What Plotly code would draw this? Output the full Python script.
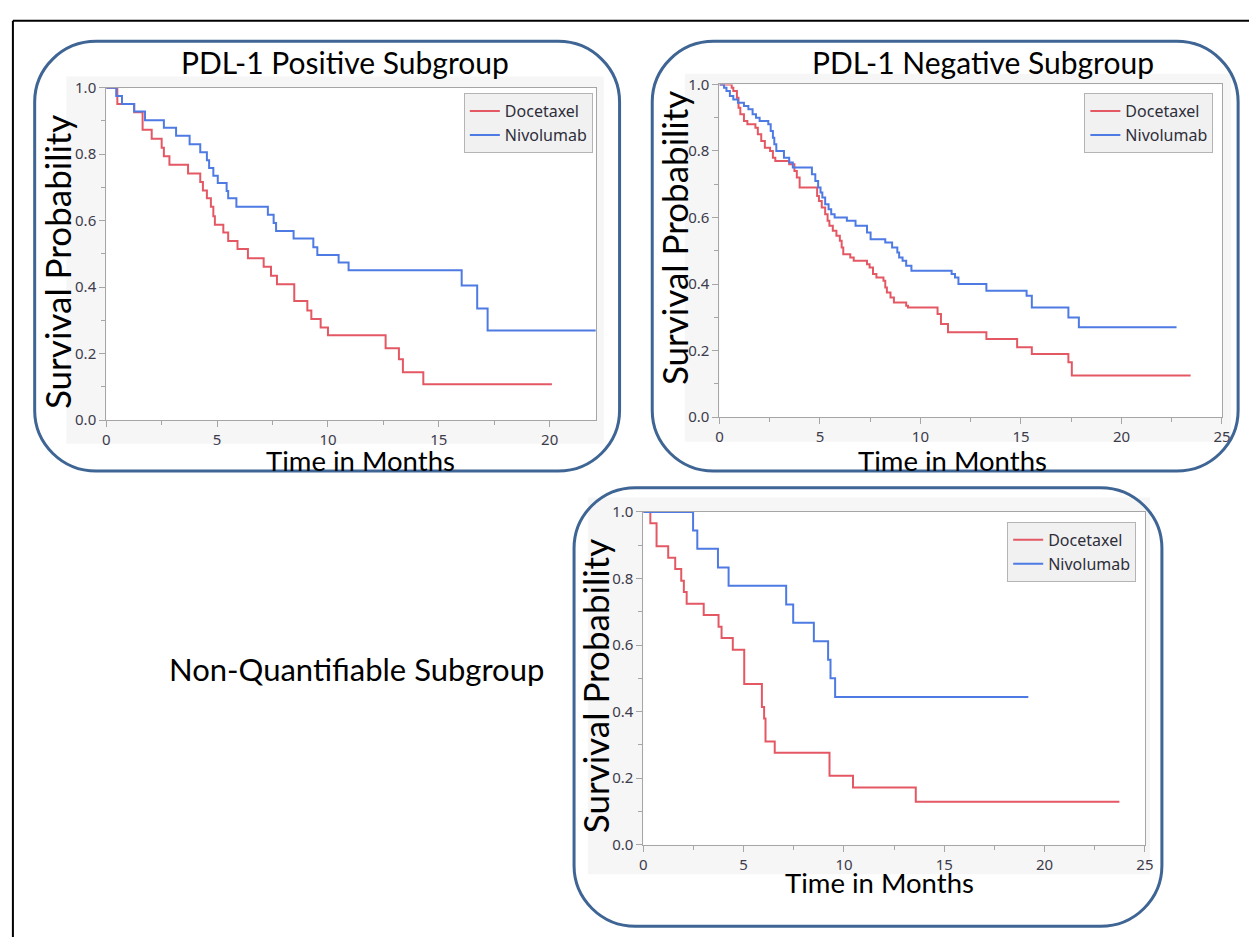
import plotly.graph_objects as go

W, H = 1258, 946

# ---------------- data: Kaplan-Meier step points (months, survival) ----------------
# PDL-1 positive subgroup
pos_doc_t = [0, 0.5, 1.26, 1.64, 2.05, 2.5, 2.6, 2.85, 3.69, 4.24, 4.36, 4.54, 4.72, 4.83,
             4.9, 5.28, 5.5, 5.92, 6.39, 7.1, 7.43, 7.7, 8.48, 9.07, 9.25, 9.67, 10.0,
             12.6, 13.2, 13.38, 14.3, 20.1]
pos_doc_s = [1.0, 0.951, 0.926, 0.873, 0.846, 0.819, 0.794, 0.768, 0.742, 0.716, 0.691,
             0.667, 0.642, 0.613, 0.588, 0.564, 0.539, 0.515, 0.487, 0.461, 0.434, 0.409,
             0.358, 0.330, 0.304, 0.279, 0.255, 0.216, 0.183, 0.144, 0.108, 0.108]
pos_niv_t = [0, 0.45, 0.71, 1.26, 1.75, 2.6, 3.15, 3.76, 4.24, 4.54, 4.64, 4.83, 5.03, 5.43,
             5.5, 5.87, 7.29, 7.55, 7.66, 8.45, 9.34, 9.52, 10.48, 10.93, 16.03, 16.73,
             17.2, 22.08]
pos_niv_s = [1.0, 0.975, 0.951, 0.928, 0.902, 0.879, 0.855, 0.830, 0.806, 0.782, 0.758,
             0.735, 0.713, 0.689, 0.667, 0.642, 0.618, 0.593, 0.569, 0.546, 0.520, 0.497,
             0.474, 0.451, 0.405, 0.336, 0.270, 0.270]

# PDL-1 negative subgroup
neg_doc_t = [0, 0.61, 0.69, 0.87, 0.95, 1.04, 1.22, 1.39, 1.79, 1.91, 2.08, 2.26, 2.52, 2.66,
             2.78, 3.47, 3.73, 3.85, 3.99, 4.86, 4.95, 5.09, 5.26, 5.38, 5.47, 5.64, 5.82,
             5.99, 6.08, 6.16, 6.51, 6.68, 7.34, 7.47, 7.64, 7.81, 8.16, 8.25, 8.33, 8.51,
             8.68, 9.29, 9.38, 10.85, 11.02, 11.37, 13.28, 14.81, 15.54, 17.36, 17.53, 23.44]
neg_doc_s = [1.0, 0.99, 0.98, 0.96, 0.93, 0.91, 0.89, 0.88, 0.87, 0.85, 0.83, 0.81, 0.80,
             0.78, 0.77, 0.76, 0.74, 0.72, 0.69, 0.665, 0.65, 0.63, 0.61, 0.59, 0.575, 0.56,
             0.545, 0.53, 0.51, 0.49, 0.48, 0.47, 0.46, 0.45, 0.43, 0.42, 0.41, 0.39, 0.375,
             0.36, 0.345, 0.335, 0.33, 0.31, 0.28, 0.255, 0.235, 0.21, 0.19, 0.165, 0.125,
             0.125]
neg_niv_t = [0, 0.23, 0.35, 0.52, 0.69, 0.92, 1.22, 1.44, 1.65, 1.82, 2.0, 2.43, 2.55, 2.66,
             2.73, 2.83, 3.21, 3.47, 3.65, 4.6, 4.77, 4.91, 5.03, 5.12, 5.26, 5.43, 5.56,
             5.73, 6.34, 6.77, 7.34, 7.52, 8.25, 8.59, 8.85, 8.94, 9.11, 9.29, 9.55, 11.55,
             11.72, 11.89, 13.28, 15.28, 15.54, 17.36, 17.88, 22.74]
neg_niv_s = [1.0, 0.99, 0.98, 0.965, 0.955, 0.945, 0.935, 0.925, 0.91, 0.90, 0.89, 0.88,
             0.86, 0.84, 0.82, 0.80, 0.78, 0.765, 0.75, 0.73, 0.71, 0.69, 0.675, 0.66, 0.64,
             0.625, 0.61, 0.60, 0.59, 0.575, 0.555, 0.535, 0.525, 0.51, 0.495, 0.48, 0.47,
             0.455, 0.44, 0.43, 0.42, 0.40, 0.38, 0.365, 0.33, 0.30, 0.27, 0.27]

# Non-quantifiable subgroup
nq_doc_t = [0, 0.35, 0.66, 1.24, 1.59, 1.89, 2.02, 2.16, 3.01, 3.75, 3.9, 4.46, 5.03, 5.91,
            6.02, 6.09, 6.55, 9.28, 10.45, 13.58, 23.73]
nq_doc_s = [1.0, 0.966, 0.897, 0.862, 0.828, 0.793, 0.759, 0.724, 0.690, 0.655, 0.621,
            0.586, 0.483, 0.414, 0.379, 0.310, 0.276, 0.207, 0.172, 0.129, 0.129]
nq_niv_t = [0, 2.48, 2.69, 3.72, 4.25, 7.12, 7.47, 8.5, 9.21, 9.33, 9.56, 19.19]
nq_niv_s = [1.0, 0.944, 0.889, 0.833, 0.778, 0.722, 0.667, 0.611, 0.556, 0.50, 0.444, 0.444]

series_names = ["Docetaxel", "Nivolumab"]
y_ticks = [0.0, 0.2, 0.4, 0.6, 0.8, 1.0]
x_ticks = [0, 5, 10, 15, 20, 25]

RED = "rgb(228,88,100)"
BLUE = "rgb(78,122,228)"
BOX = "#3e6594"
AXIS = "#a6a6a6"
TICKFONT = dict(family="Noto Sans, DejaVu Sans, sans-serif", size=15, color="#3c3c4c")
LABELFONT = "Lato, Noto Sans, sans-serif"


def px(x):
    return x / W


def py(y):
    return 1 - y / H


# plot area geometry (pixels) for each panel
panels = [
    dict(xa="x", ya="y", lg="legend", l=103.3, r=598, t=78.3, b=418, xmax=22.08,
         doc=(pos_doc_t, pos_doc_s), niv=(pos_niv_t, pos_niv_s),
         frame=(63, 67, 606, 442), box=(31, 31, 622, 470),
         legend=(595, 84)),
    dict(xa="x2", ya="y2", lg="legend2", l=722.9, r=1230.7, t=75, b=415, xmax=25,
         doc=(neg_doc_t, neg_doc_s), niv=(neg_niv_t, neg_niv_s),
         frame=(688, 64, 1240, 440), box=(655, 31, 1247, 470),
         legend=(1222, 84)),
    dict(xa="x3", ya="y3", lg="legend3", l=646, r=1152.8, t=511.7, b=851.7, xmax=25,
         doc=(nq_doc_t, nq_doc_s), niv=(nq_niv_t, nq_niv_s),
         frame=(590, 497, 1158, 882), box=(576, 487, 1170, 935),
         legend=(1144, 522)),
]

fig = go.Figure()
shapes = []
layout = dict(
    width=W, height=H, margin=dict(l=0, r=0, t=0, b=0),
    paper_bgcolor="white", plot_bgcolor="rgba(0,0,0,0)",
    showlegend=True,
)


def rounded_path(l, t, r, b, rr):
    k = 0.5523 * rr
    pts = [
        ("M", [(l + rr, t)]),
        ("L", [(r - rr, t)]),
        ("C", [(r - rr + k, t), (r, t + rr - k), (r, t + rr)]),
        ("L", [(r, b - rr)]),
        ("C", [(r, b - rr + k), (r - rr + k, b), (r - rr, b)]),
        ("L", [(l + rr, b)]),
        ("C", [(l + rr - k, b), (l, b - rr + k), (l, b - rr)]),
        ("L", [(l, t + rr)]),
        ("C", [(l, t + rr - k), (l + rr - k, t), (l + rr, t)]),
    ]
    s = ""
    for cmd, ps in pts:
        s += cmd + " ".join(f"{px(x):.5f},{py(y):.5f}" for x, y in ps) + " "
    return s + "Z"


for i, p in enumerate(panels):
    sfx = "" if i == 0 else str(i + 1)
    for name, (t, s), col in ((series_names[0], p["doc"], RED), (series_names[1], p["niv"], BLUE)):
        fig.add_trace(go.Scatter(
            x=t, y=s, mode="lines", name=name,
            line=dict(shape="hv", color=col, width=2),
            xaxis=p["xa"], yaxis=p["ya"], legend=p["lg"],
        ))
    common = dict(showline=True, linecolor=AXIS, linewidth=1, mirror=True,
                  showgrid=False, zeroline=False, ticks="outside", tickcolor=AXIS,
                  ticklen=6, tickwidth=1, tickfont=TICKFONT)
    layout["xaxis" + sfx] = dict(
        common, domain=[px(p["l"]), px(p["r"])], range=[0, p["xmax"]],
        tickvals=[v for v in x_ticks if v <= p["xmax"]],
        minor=dict(dtick=2.5, ticks="outside", ticklen=4, tickcolor=AXIS),
        anchor=p["ya"], ticklabelstandoff=0,
    )
    layout["yaxis" + sfx] = dict(
        common, domain=[py(p["b"]), py(p["t"])], range=[0, 1],
        tickvals=y_ticks, tickformat=".1f",
        minor=dict(dtick=0.1, ticks="outside", ticklen=4, tickcolor=AXIS),
        anchor=p["xa"],
    )
    layout[p["lg"]] = dict(
        x=px(p["legend"][0]), y=py(p["legend"][1]), xanchor="right", yanchor="top",
        bgcolor="#f1f1f1", bordercolor="#b4b4b4", borderwidth=1,
        font=dict(family="Noto Sans, DejaVu Sans, sans-serif", size=16, color="#2e2e3a"),
        itemclick=False,
    )
    fl, ft, fr, fb = p["frame"]
    shapes.append(dict(type="rect", xref="paper", yref="paper", layer="below",
                       x0=px(fl), x1=px(fr), y0=py(fb), y1=py(ft),
                       fillcolor="#f6f6f6", line=dict(width=0)))
    shapes.append(dict(type="rect", xref="paper", yref="paper", layer="below",
                       x0=px(p["l"]), x1=px(p["r"]), y0=py(p["b"]), y1=py(p["t"]),
                       fillcolor="white", line=dict(width=0)))
    bl, bt, br, bb = p["box"]
    shapes.append(dict(type="path", xref="paper", yref="paper", layer="above",
                       path=rounded_path(bl, bt, br, bb, 62),
                       line=dict(color=BOX, width=3)))

# outer black frame (left and top edges)
shapes.append(dict(type="line", xref="paper", yref="paper", x0=px(9), x1=px(9),
                   y0=py(10), y1=py(H), line=dict(color="black", width=2)))
shapes.append(dict(type="line", xref="paper", yref="paper", x0=px(9), x1=px(W),
                   y0=py(10), y1=py(10), line=dict(color="black", width=2)))

# (text, centre x, centre y, angle, font size)
texts = [
    ("PDL-1 Positive Subgroup", 345, 52, 0, 30),
    ("PDL-1 Negative Subgroup", 989, 52, 0, 30),
    ("Non-Quantifiable Subgroup", 356, 672, 0, 31),
    ("Survival Probability", 53, 256, -90, 35),
    ("Survival Probability", 677, 232, -90, 35),
    ("Survival Probability", 598, 690, -90, 35),
    ("Time in Months", 360, 459, 0, 27.5),
    ("Time in Months", 958, 459, 0, 27.5),
    ("Time in Months", 885, 890, 0, 27.5),
]
annotations = [
    dict(text=t, x=px(x), y=py(y), xref="paper", yref="paper", showarrow=False,
         xanchor="center", yanchor="middle", textangle=a,
         font=dict(family=LABELFONT, size=sz, color="black"))
    for t, x, y, a, sz in texts
]

layout["shapes"] = shapes
layout["annotations"] = annotations
fig.update_layout(**layout)
fig.write_html("out.html")
